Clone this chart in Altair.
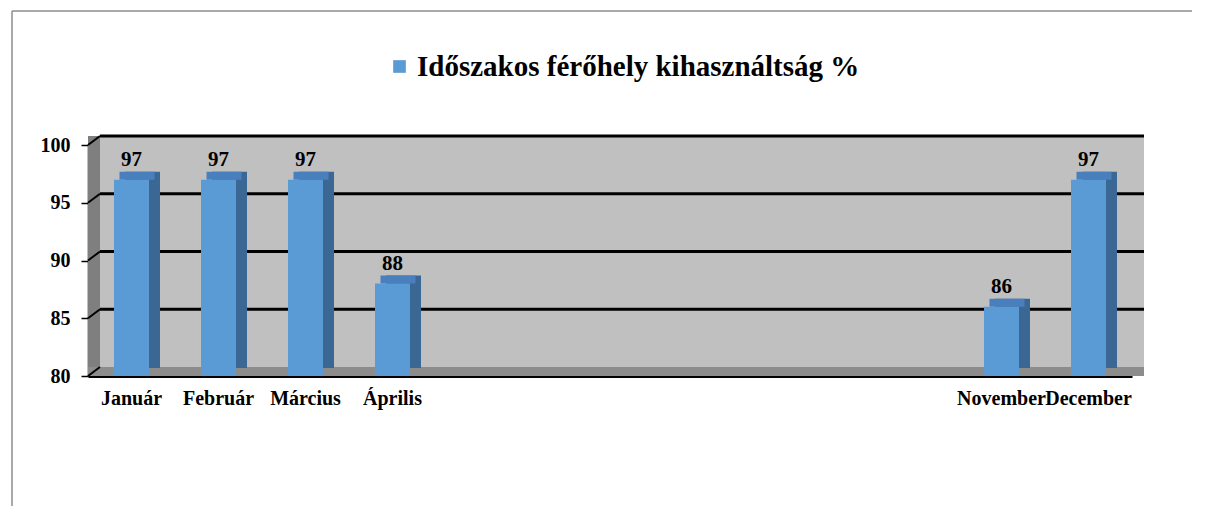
import altair as alt
import pandas as pd

months = ["Január", "Február", "Március", "Április", "", "", "", "", "", "", "November", "December"]
values = [97, 97, 97, 88, None, None, None, None, None, None, 86, 97]
series_name = "Időszakos férőhely kihasználtság %"
y_ticks = [80, 85, 90, 95, 100]
grid_values = [85, 90, 95, 100]
wall_values = [80, 85, 90, 95, 100]

W, H = 1044, 231
DX, DY = 12, -9
BDX, BDY = 11, -8
FONT = "Liberation Serif"

idx = list(range(1, 13))
df = pd.DataFrame({"idx": idx, "month": months, "value": values, "series": series_name})
df["base"] = 80
bars_df = df.dropna(subset=["value"])

label_expr = "[" + ",".join(f"'{m}'" for m in months) + "][datum.value - 1]"

x_enc = alt.X("idx:O", scale=alt.Scale(domain=idx, paddingInner=0, paddingOuter=0),
              axis=alt.Axis(title=None, labelExpr=label_expr, ticks=False, domain=True,
                            domainColor="black", domainWidth=3, labelFont=FONT,
                            labelFontWeight="bold", labelFontSize=20, labelColor="black",
                            labelPadding=12, labelAngle=0, labelOverlap=False))
y_scale = alt.Scale(domain=[80, 100], nice=False, zero=False)
y_axis = alt.Axis(title=None, values=y_ticks, grid=False, domainColor="black",
                  domainWidth=1.5, tickColor="black", tickSize=7, tickWidth=1.5,
                  labelFont=FONT, labelFontWeight="bold", labelFontSize=20,
                  labelColor="black", labelPadding=11)
y_enc = alt.Y("value:Q", scale=y_scale, axis=y_axis)

one = pd.DataFrame({"a": [0]})
grid_df = pd.DataFrame({"value": grid_values})
wall_df = pd.DataFrame({"value": wall_values})

# outer frame
frame_top = alt.Chart(one).mark_rule(color="#8c8c8c", strokeWidth=1.5).encode(
    x=alt.value(-76), x2=alt.value(1200), y=alt.value(-134))
frame_left = alt.Chart(one).mark_rule(color="#8c8c8c", strokeWidth=1.5).encode(
    x=alt.value(-76), y=alt.value(-134), y2=alt.value(400))

back_wall = alt.Chart(one).mark_rect(color="#c0c0c0").encode(
    x=alt.value(DX), x2=alt.value(W + DX), y=alt.value(DY), y2=alt.value(H + DY))
left_wall = alt.Chart(one).mark_rect(color="#7f7f7f").encode(
    x=alt.value(0), x2=alt.value(DX), y=alt.value(DY), y2=alt.value(H))
floor = alt.Chart(one).mark_rect(color="#8c8c8c").encode(
    x=alt.value(0), x2=alt.value(W + DX), y=alt.value(H + DY), y2=alt.value(H))

grid = alt.Chart(grid_df).mark_rule(color="black", strokeWidth=3, yOffset=DY).encode(
    y=y_enc, x=alt.value(DX), x2=alt.value(W + DX))
wall_lines = alt.Chart(wall_df).mark_rule(color="black", strokeWidth=2, y2Offset=DY).encode(
    y=y_enc, y2="value:Q", x=alt.value(0), x2=alt.value(DX))

side = alt.Chart(bars_df).mark_bar(color="#3b6794", size=35, xOffset=BDX, yOffset=BDY,
                                   y2Offset=BDY).encode(
    x=x_enc, y=y_enc, y2="base:Q")
top = alt.Chart(bars_df).mark_bar(color="#4a7fbd", size=35, xOffset=BDX / 2, yOffset=BDY,
                                  y2Offset=0).encode(
    x=x_enc, y=y_enc, y2="value:Q")
front = alt.Chart(bars_df).mark_bar(size=35).encode(
    x=x_enc, y=y_enc, y2="base:Q",
    color=alt.Color("series:N", scale=alt.Scale(range=["#5b9bd5"]),
                    legend=alt.Legend(title=None, orient="none", legendX=297, legendY=-93,
                                      symbolType="square", symbolSize=160, symbolStrokeWidth=0,
                                      labelFont=FONT, labelFontWeight="bold", labelFontSize=29,
                                      labelColor="black", labelOffset=3, labelLimit=800)))
labels = alt.Chart(bars_df).mark_text(font=FONT, fontWeight="bold", fontSize=21, color="black",
                                      baseline="alphabetic", dy=-14).encode(
    x=x_enc, y=y_enc, text=alt.Text("value:Q", format="d"))

chart = alt.layer(frame_top, frame_left, back_wall, left_wall, floor, grid, wall_lines,
                  side, top, front, labels).properties(
    width=W, height=H,
    padding={"left": 80, "top": 137, "right": 60, "bottom": 130},
    autosize="none",
).configure_view(strokeWidth=0).configure(background="white")

chart.save("out.html", embed_options={"renderer": "svg", "actions": False})
